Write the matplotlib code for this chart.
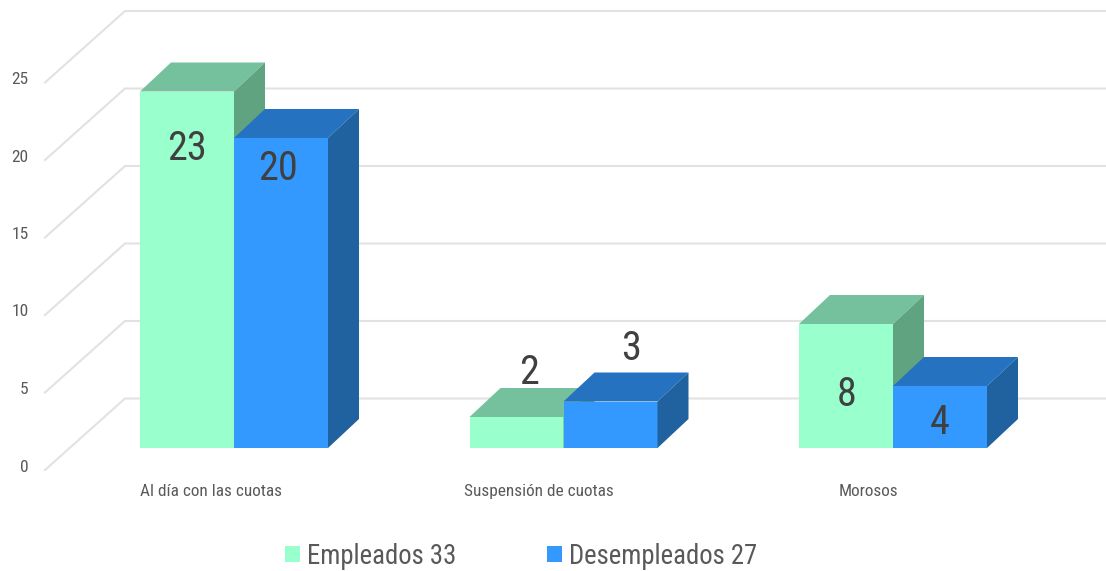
import matplotlib
matplotlib.use("Agg")
import matplotlib.pyplot as plt
from matplotlib.patches import Polygon, Patch

plt.rcParams['font.family'] = ['Roboto Condensed', 'Open Sans', 'DejaVu Sans']

categories = ['Al día con las cuotas', 'Suspensión de cuotas', 'Morosos']
empleados = [23, 2, 8]
desempleados = [20, 3, 4]
y_ticks = [0, 5, 10, 15, 20, 25]
legend_labels = ['Empleados 33', 'Desempleados 27']

# colours: front, top, side
green = ('#99FFCC', '#75C19E', '#60A380')
blue = ('#3399FF', '#2472C0', '#1F629F')

# scale of the picture, pixels per unit
px_x = 329.5
px_y = 15.5
x0_px = 234
y0_px = 448
W, H = 1106, 571

fig = plt.figure(figsize=(W / 100, H / 100), dpi=100)
ax = fig.add_axes([0, 0, 1, 1])
ax.set_xlim(-x0_px / px_x, (W - x0_px) / px_x)
ax.set_ylim(-(H - y0_px) / px_y, y0_px / px_y)
ax.axis('off')


def xp(px):
    return (px - x0_px) / px_x


def yp(px):
    return (y0_px - px) / px_y


bar_w = 94 / px_x
dx = 31 / px_x
dy = 29 / px_y


def bar3d(x, h, cols):
    ax.add_patch(Polygon([(x, 0), (x + bar_w, 0), (x + bar_w, h), (x, h)], fc=cols[0], ec='none', zorder=3))
    ax.add_patch(Polygon([(x, h), (x + bar_w, h), (x + bar_w + dx, h + dy), (x + dx, h + dy)], fc=cols[1], ec='none', zorder=3))
    ax.add_patch(Polygon([(x + bar_w, 0), (x + bar_w + dx, dy), (x + bar_w + dx, h + dy), (x + bar_w, h)], fc=cols[2], ec='none', zorder=3))


# back wall grid and the slanted lines on the left
back_0 = yp(398.5)
front_0 = yp(470)
for v in y_ticks:
    ax.plot([xp(45), xp(125), xp(1106)], [v + front_0, v + back_0, v + back_0],
            color='#E2E2E2', lw=1.5, zorder=1, solid_joinstyle='miter')
    ax.text(xp(28.5), v + yp(467), str(v), ha='right', va='center', fontsize=12.5, color='#595959')

for i in range(len(categories)):
    bar3d(i - bar_w, empleados[i], green)
    bar3d(i, desempleados[i], blue)

# data label offsets in pixels from the top centre of each bar
off_emp = [(0, -53), (13, 48), (1, -67)]
off_des = [(-3, -27), (21, 57), (0, -32)]
for i in range(len(categories)):
    for val, xc, off in [(empleados[i], i - bar_w / 2, off_emp[i]),
                         (desempleados[i], i + bar_w / 2, off_des[i])]:
        ax.annotate(str(val), (xc, val), xytext=(off[0] * 0.72, off[1] * 0.72),
                    textcoords='offset points', ha='center', va='center_baseline',
                    fontsize=29, color='#404040', zorder=5)

cat_centers = [211, 539, 868]
for c, name in zip(cat_centers, categories):
    ax.text(xp(c), yp(491.5), name, ha='center', va='center', fontsize=12.4, color='#595959')

handles = [Patch(fc=green[0], ec='none'), Patch(fc=blue[0], ec='none')]
fig.legend(handles, legend_labels, ncol=2, loc='center', bbox_to_anchor=(521 / W, 1 - 556 / H),
           frameon=False, fontsize=19.3, labelcolor='#595959', handlelength=0.56, handleheight=0.56,
           handletextpad=0.26, columnspacing=3.36)

fig.savefig('out.png', dpi=100)
